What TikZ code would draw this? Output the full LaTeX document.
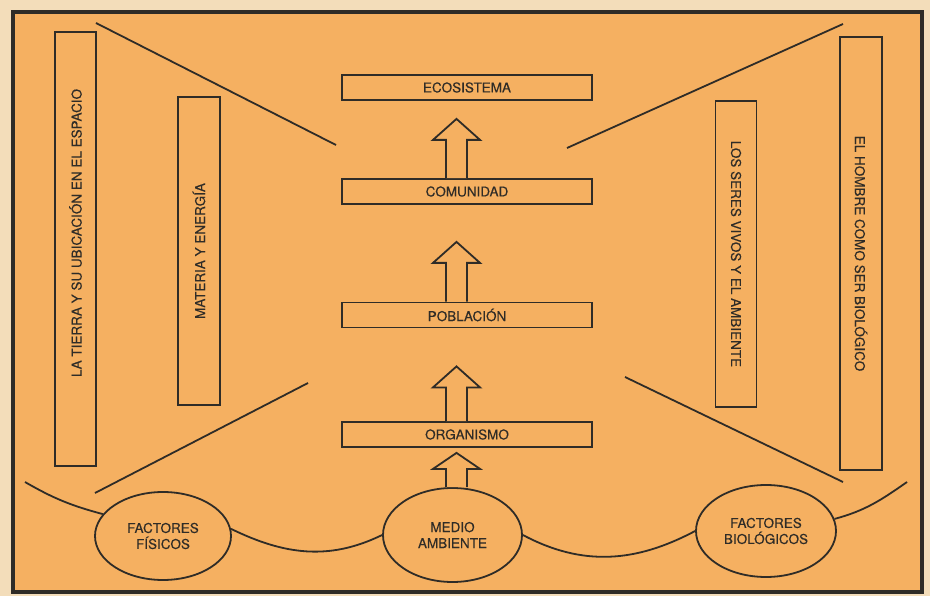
\documentclass[tikz,border=0pt]{standalone}
\usepackage{fontspec}
\setmainfont{TeX Gyre Heros}[FakeBold=0.3]
\usetikzlibrary{shapes.geometric,calc}
\definecolor{papel}{HTML}{F3DDBA}
\definecolor{fondo}{HTML}{F5B061}
\definecolor{tinta}{HTML}{2F2C27}
\tikzset{nivel/.style={draw=tinta,fill=fondo,minimum width=250pt,minimum height=25pt,inner sep=0pt},
banda/.style={draw=tinta,inner sep=0pt},
factor/.style={draw=tinta,fill=fondo,ellipse,inner sep=0pt,align=center}}
\begin{document}
\begin{tikzpicture}[x=1pt,y=-1pt,line width=1.8pt,font=\fontsize{13.5}{16}\selectfont,color=tinta]
\fill[papel] (0,0) rectangle (930,596);
\draw[line width=4pt,fill=fondo] (13,12) rectangle (922,592);
\foreach \n/\t/\y in {ecosistema/ECOSISTEMA/87.5,comunidad/COMUNIDAD/191.5,poblacion/POBLACIÓN/315,organismo/ORGANISMO/434.5} \node[nivel] (\n) at (467,\y) {\t};
\node[banda,rotate=90,minimum width=434pt,minimum height=41pt] (tierra) at (75.5,249) {\hspace*{32pt}LA TIERRA Y SU UBICACIÓN EN EL ESPACIO};
\node[banda,rotate=90,minimum width=308pt,minimum height=42pt] (materia) at (199,251) {MATERIA Y ENERGÍA};
\node[banda,rotate=-90,minimum width=306pt,minimum height=41pt] (seres) at (736,254) {LOS SERES VIVOS Y EL AMBIENTE};
\node[banda,rotate=-90,minimum width=433pt,minimum height=42pt] (hombre) at (861,253.5) {EL HOMBRE COMO SER BIOLÓGICO};
\node[factor,minimum width=136pt,minimum height=88pt] (fisicos) at (163,536) {FACTORES\\FÍSICOS};
\node[factor,minimum width=139pt,minimum height=94pt] (medio) at (452.5,535) {MEDIO\\AMBIENTE};
\node[factor,minimum width=140pt,minimum height=92pt] (bio) at (766,531) {FACTORES\\BIOLÓGICOS};
\coordinate (eje) at (456.5,0);
\foreach \lo/\up/\g/\h in {comunidad/ecosistema/18/21,poblacion/comunidad/37/21,organismo/poblacion/38/21,medio/organismo/5/16} \draw[fill=fondo,line join=miter] ($(\lo.north -| eje)+(-10.5,0)$) -- ($(\up.south -| eje)+(-10.5,\g+\h)$) -- ($(\up.south -| eje)+(-23.5,\g+\h)$) -- ($(\up.south -| eje)+(0,\g)$) -- ($(\up.south -| eje)+(23.5,\g+\h)$) -- ($(\up.south -| eje)+(10.5,\g+\h)$) -- ($(\lo.north -| eje)+(10.5,0)$);
\coordinate (sup izq) at (96,23); \coordinate (fin sup izq) at (336,145);
\coordinate (sup der) at (843,24); \coordinate (fin sup der) at (567,148);
\coordinate (inf izq) at (95,493); \coordinate (fin inf izq) at (308,383);
\coordinate (inf der) at (843,482); \coordinate (fin inf der) at (625,377);
\foreach \a in {sup izq,sup der,inf izq,inf der} \draw (\a) -- (fin \a);
\coordinate (curva izq) at (25,482); \coordinate (curva der) at (907,482);
\draw (curva izq) to[out=-30,in=165] (fisicos.160);
\draw (fisicos.6) to[out=-26,in=-154] (medio.west);
\draw (medio.east) to[out=-28,in=-152] (bio.west);
\draw (bio.10) to[out=15,in=-145] (curva der);
\end{tikzpicture}
\end{document}
